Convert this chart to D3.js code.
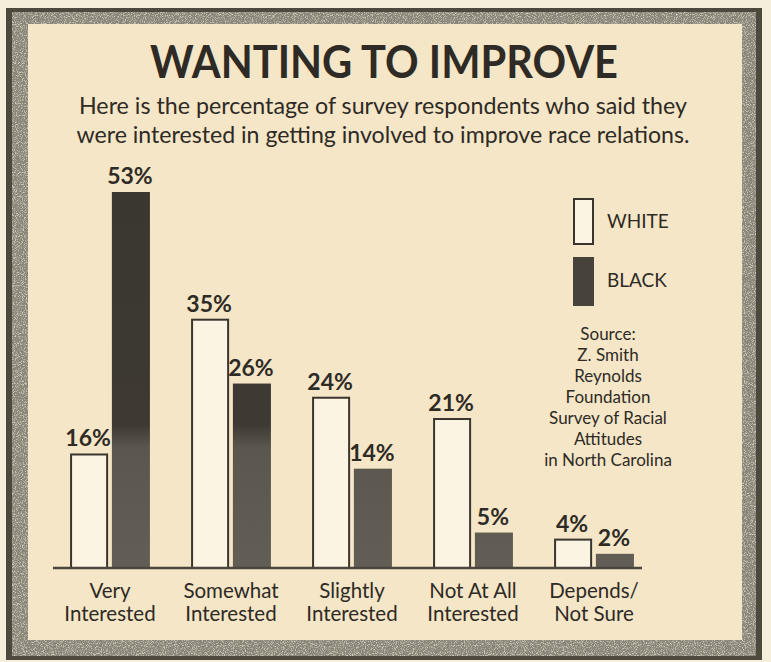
<!DOCTYPE html>
<html>
<head>
<meta charset="utf-8">
<script src="https://cdn.jsdelivr.net/npm/d3@7"></script>
<style>
  html, body { margin: 0; padding: 0; background: #f5eedb; }
  svg { display: block; }
</style>
</head>
<body>
<svg id="chart" width="771" height="662"></svg>
<script>
// ---- data ----
const categories = ["Very Interested", "Somewhat Interested", "Slightly Interested", "Not At All Interested", "Depends/Not Sure"];
const categoryLines = [["Very", "Interested"], ["Somewhat", "Interested"], ["Slightly", "Interested"], ["Not At All", "Interested"], ["Depends/", "Not Sure"]];
const series = ["WHITE", "BLACK"];
const whiteValues = [16, 35, 24, 21, 4];
const blackValues = [53, 26, 14, 5, 2];
const titleText = "WANTING TO IMPROVE";
const subtitleLines = [
  "Here is the percentage of survey respondents who said they",
  "were interested in getting involved to improve race relations."
];
const sourceLines = ["Source:", "Z. Smith", "Reynolds", "Foundation", "Survey of Racial", "Attitudes", "in North Carolina"];

const rows = categories.map((c, i) => ({ cat: c, lines: categoryLines[i], WHITE: whiteValues[i], BLACK: blackValues[i] }));

// ---- drawing ----
const svg = d3.select("#chart");
const defs = svg.append("defs");

// grain filter for the frame (light speckles on grey)
const f = defs.append("filter").attr("id", "grain").attr("x", 0).attr("y", 0).attr("width", 1).attr("height", 1)
  .attr("color-interpolation-filters", "sRGB");
f.append("feTurbulence").attr("type", "fractalNoise").attr("baseFrequency", 1.1).attr("numOctaves", 2).attr("seed", 5).attr("result", "n");
f.append("feColorMatrix").attr("in", "n").attr("type", "matrix")
  .attr("values", "0 0 0 0 0.80  0 0 0 0 0.78  0 0 0 0 0.72  4 0 0 0 -1.9").attr("result", "nc");
f.append("feComposite").attr("in", "nc").attr("in2", "SourceGraphic").attr("operator", "in").attr("result", "nm");
f.append("feMerge").selectAll("feMergeNode").data(["SourceGraphic", "nm"]).join("feMergeNode").attr("in", d => d);

// black bar shading: dark upper, lighter halftone lower
const grad = defs.append("linearGradient").attr("id", "blackFill")
  .attr("gradientUnits", "userSpaceOnUse").attr("x1", 0).attr("y1", 180).attr("x2", 0).attr("y2", 568);
grad.append("stop").attr("offset", "0").attr("stop-color", "#3a3630");
grad.append("stop").attr("offset", "0.63").attr("stop-color", "#3e3a33");
grad.append("stop").attr("offset", "0.69").attr("stop-color", "#5b574e");
grad.append("stop").attr("offset", "1").attr("stop-color", "#625e55");

// frame
svg.append("rect").attr("x", 6).attr("y", 8).attr("width", 756).attr("height", 652).attr("fill", "#4d493f");
svg.append("rect").attr("x", 12).attr("y", 12).attr("width", 744).attr("height", 644).attr("fill", "#8a8579").attr("filter", "url(#grain)");
svg.append("rect").attr("x", 28).attr("y", 24).attr("width", 714).attr("height", 616).attr("fill", "#f4e6c7");

const FONT = "Lato, 'Open Sans', sans-serif";
const ink = "#2e2a25";

// title
svg.append("text").attr("x", 384).attr("y", 78).attr("text-anchor", "middle")
  .attr("font-family", FONT).attr("font-weight", 700).attr("font-size", 46).attr("fill", ink)
  .attr("textLength", 468).attr("lengthAdjust", "spacingAndGlyphs").text(titleText);

// subtitle
svg.append("g").selectAll("text").data(subtitleLines).join("text")
  .attr("x", 383).attr("y", (d, i) => 114 + i * 29).attr("text-anchor", "middle")
  .attr("font-family", FONT).attr("font-size", 24).attr("fill", ink)
  .attr("textLength", (d, i) => i === 0 ? 608 : 613).attr("lengthAdjust", "spacingAndGlyphs")
  .text(d => d);

// scales
const x0 = d3.scaleBand().domain(categories).range([49.5, 654.5]).paddingInner(0.34).paddingOuter(0.17);
const x1 = d3.scaleBand().domain(series).range([0, x0.bandwidth()]).paddingInner(0.09);
const y = d3.scaleLinear().domain([0, 53]).range([568, 192]);

// bars
const groups = svg.append("g").selectAll("g").data(rows).join("g")
  .attr("transform", d => `translate(${x0(d.cat)},0)`);

groups.selectAll("rect").data(d => series.map(s => ({ s, v: d[s] }))).join("rect")
  .attr("x", d => x1(d.s) + (d.s === "WHITE" ? 1 : 0))
  .attr("width", d => x1.bandwidth() - (d.s === "WHITE" ? 2 : 0))
  .attr("y", d => y(d.v))
  .attr("height", d => y(0) - y(d.v))
  .attr("fill", d => d.s === "WHITE" ? "#fbf4e2" : "url(#blackFill)")
  .attr("stroke", d => d.s === "WHITE" ? "#3a362f" : "none")
  .attr("stroke-width", 2);

groups.selectAll("text.val").data(d => series.map(s => ({ s, v: d[s] }))).join("text")
  .attr("class", "val")
  .attr("x", d => x1(d.s) + x1.bandwidth() / 2 - 1)
  .attr("y", d => y(d.v) - 8)
  .attr("text-anchor", "middle")
  .attr("font-family", FONT).attr("font-weight", 700).attr("font-size", 23).attr("fill", ink)
  .text(d => d.v + "%");

// baseline axis
const axis = d3.axisBottom(x0).tickSize(0).tickFormat("");
const ag = svg.append("g").attr("transform", `translate(0,${y(0)})`).call(axis);
ag.select(".domain").attr("d", "M53,0H642").attr("stroke", "#4a463e").attr("stroke-width", 2.5);

// category labels
const lab = svg.append("g").selectAll("text").data(rows).join("text")
  .attr("text-anchor", "middle")
  .attr("font-family", FONT).attr("font-size", 20.5).attr("fill", ink)
  .attr("transform", d => `translate(${x0(d.cat) + x0.bandwidth() / 2},0)`);
lab.selectAll("tspan").data(d => d.lines).join("tspan")
  .attr("x", 0).attr("y", (d, i) => 598 + i * 23).text(d => d);

// legend
const legend = svg.append("g");
legend.append("rect").attr("x", 574).attr("y", 199).attr("width", 19).attr("height", 45)
  .attr("fill", "#fbf4e2").attr("stroke", "#3a362f").attr("stroke-width", 2);
legend.append("rect").attr("x", 573).attr("y", 257).attr("width", 21).attr("height", 49)
  .attr("fill", "#47433b");
legend.selectAll("text").data(series).join("text")
  .attr("x", 607).attr("y", (d, i) => 228 + i * 59)
  .attr("font-family", FONT).attr("font-size", 19).attr("fill", ink)
  .text(d => d);

// source
svg.append("g").selectAll("text").data(sourceLines).join("text")
  .attr("x", 608).attr("y", (d, i) => 340 + i * 21).attr("text-anchor", "middle")
  .attr("font-family", FONT).attr("font-size", 17).attr("fill", ink)
  .text(d => d);
</script>
</body>
</html>
